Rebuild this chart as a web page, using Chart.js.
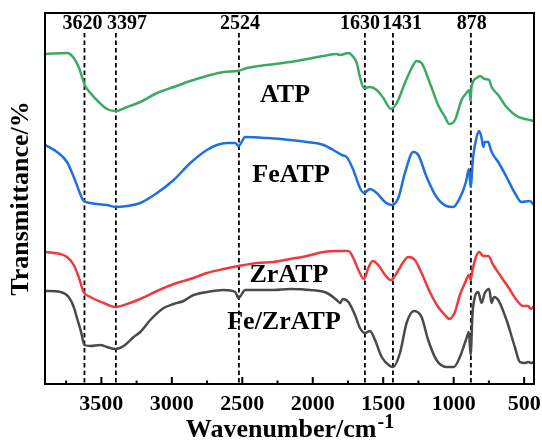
<!DOCTYPE html>
<html>
<head>
<meta charset="utf-8">
<script src="https://cdn.jsdelivr.net/npm/chart.js@4.4.1/dist/chart.umd.min.js"></script>
<style>
  html, body { margin: 0; padding: 0; background: #fff; }
</style>
</head>
<body>
<canvas id="ftirChart" width="542" height="444"></canvas>
<script>
// FTIR spectra, transmittance in arbitrary units (curves offset)
const atpWn = [3897, 3743, 3696, 3661, 3637, 3618, 3578, 3519, 3460, 3401, 3318, 3224, 3105, 2987, 2869, 2751, 2633, 2531, 2467, 2326, 2161, 2042, 1924, 1830, 1806, 1747, 1712, 1688, 1665, 1636, 1594, 1546, 1499, 1445, 1404, 1346, 1298, 1263, 1228, 1169, 1110, 1062, 1031, 991, 944, 909, 888, 880, 874, 837, 814, 779, 748, 731, 684, 625, 554, 495, 460, 430];
const atpT = [330, 331, 326, 317, 307, 299, 291, 282, 275, 273, 277, 282, 291, 297, 303, 308, 312, 313, 316, 319, 322, 325, 328, 330, 329, 331, 327, 321, 307, 296, 297, 294, 286, 275, 281, 301, 316, 323, 321, 301, 279, 267, 260, 264, 284, 291, 294, 283, 297, 306, 308, 305, 304, 297, 289, 277, 268, 265, 264, 263];

const feWn = [3897, 3815, 3744, 3696, 3661, 3630, 3578, 3460, 3401, 3318, 3224, 3105, 2987, 2869, 2751, 2680, 2609, 2550, 2527, 2479, 2326, 2161, 2042, 1924, 1830, 1794, 1759, 1712, 1665, 1636, 1594, 1546, 1487, 1440, 1393, 1346, 1287, 1251, 1192, 1122, 1051, 1004, 956, 913, 892, 880, 862, 837, 819, 802, 790, 779, 755, 736, 719, 684, 625, 566, 518, 460, 430];
const feT = [239, 232, 222, 207, 194, 184, 181, 179, 177, 178, 181, 191, 204, 221, 234, 239, 241, 241, 238, 247, 246, 244, 242, 239, 232, 229, 227, 214, 196, 191, 195, 191, 182, 179, 186, 211, 232, 229, 207, 187, 178, 177, 186, 202, 215, 197, 227, 247, 253, 246, 237, 242, 242, 234, 229, 222, 207, 191, 182, 183, 179];

const zrWn = [3897, 3791, 3744, 3696, 3661, 3626, 3578, 3484, 3401, 3318, 3224, 3105, 2987, 2869, 2751, 2633, 2527, 2397, 2279, 2161, 2042, 1924, 1806, 1747, 1712, 1676, 1636, 1606, 1575, 1535, 1487, 1445, 1404, 1357, 1322, 1275, 1228, 1169, 1110, 1062, 1031, 991, 956, 920, 892, 880, 866, 842, 819, 790, 755, 719, 672, 613, 554, 507, 471, 454, 430];
const zrT = [132, 130, 127, 119, 107, 92, 87, 81, 77, 80, 85, 93, 100, 105, 111, 115, 118, 121, 122, 125, 128, 132, 133, 133, 126, 114, 105, 116, 123, 119, 109, 104, 111, 122, 127, 124, 111, 92, 77, 69, 65, 72, 89, 101, 109, 104, 114, 127, 132, 128, 128, 119, 109, 97, 84, 78, 78, 75, 78];

const fezrWn = [3897, 3791, 3732, 3696, 3673, 3644, 3620, 3578, 3507, 3460, 3401, 3342, 3271, 3224, 3153, 3058, 2987, 2917, 2846, 2751, 2633, 2550, 2527, 2479, 2279, 2161, 2019, 1900, 1830, 1806, 1787, 1747, 1700, 1665, 1629, 1594, 1558, 1511, 1452, 1428, 1381, 1334, 1282, 1228, 1181, 1122, 1051, 999, 956, 913, 892, 880, 866, 850, 826, 802, 779, 748, 731, 714, 684, 625, 566, 530, 495, 471, 448, 430];
const fezrT = [93, 92, 87, 77, 66, 52, 39, 38, 39, 37, 35, 38, 47, 52, 64, 76, 80, 83, 89, 92, 94, 92, 86, 94, 94, 95, 94, 91, 84, 81, 85, 82, 69, 56, 51, 53, 44, 27, 18, 17, 31, 61, 73, 67, 44, 24, 17, 17, 27, 44, 52, 29, 71, 87, 92, 81, 91, 95, 81, 87, 84, 64, 37, 22, 21, 22, 21, 22];

const seriesNames = ['ATP', 'FeATP', 'ZrATP', 'Fe/ZrATP'];
const seriesColors = ['#3aa866', '#1f6fdf', '#ee3a3c', '#4a4a4a'];

const tickValues = [3500, 3000, 2500, 2000, 1500, 1000, 500];
const minorTicks = [3750, 3250, 2750, 2250, 1750, 1250, 750];
const peakValues = [3620, 3397, 2524, 1630, 1431, 878];

// label styling (pixel nudges and anchor positions in data units)
const peakNudge = [-2, 11, 1, -5, 9, 1];
const nameAnchorX = [2197, 2154, 2169, 2204];
const nameAnchorY = [289, 209, 109, 62];

const FONT = '"Liberation Serif", "Times New Roman", serif';

function toPoints(wn, t) {
  return wn.map((w, i) => ({ x: w, y: t[i] }));
}

const decor = {
  id: 'decor',
  beforeDatasetsDraw(chart) {
    const { ctx, chartArea, scales: { x, y } } = chart;
    ctx.save();
    ctx.strokeStyle = '#000';
    ctx.lineWidth = 1.8;
    ctx.setLineDash([4.5, 3]);
    const top = y.getPixelForValue(351);
    peakValues.forEach(p => {
      const px = x.getPixelForValue(p);
      ctx.beginPath();
      ctx.moveTo(px, top);
      ctx.lineTo(px, chartArea.bottom);
      ctx.stroke();
    });
    ctx.restore();
  },
  afterDatasetsDraw(chart) {
    const { ctx, chartArea, scales: { x, y } } = chart;
    ctx.save();
    // frame
    ctx.strokeStyle = '#000';
    ctx.lineWidth = 2;
    ctx.strokeRect(chartArea.left, chartArea.top, chartArea.right - chartArea.left, chartArea.bottom - chartArea.top);
    // inward ticks
    ctx.beginPath();
    tickValues.forEach(v => {
      const px = x.getPixelForValue(v);
      ctx.moveTo(px, chartArea.bottom);
      ctx.lineTo(px, chartArea.bottom - 7);
    });
    minorTicks.forEach(v => {
      const px = x.getPixelForValue(v);
      ctx.moveTo(px, chartArea.bottom);
      ctx.lineTo(px, chartArea.bottom - 3.5);
    });
    ctx.stroke();
    // peak labels
    ctx.fillStyle = '#000';
    ctx.textAlign = 'center';
    ctx.textBaseline = 'middle';
    ctx.font = 'bold 20px ' + FONT;
    peakValues.forEach((p, i) => {
      ctx.fillText(String(p), x.getPixelForValue(p) + peakNudge[i], y.getPixelForValue(360));
    });
    // series names
    ctx.font = 'bold 26px ' + FONT;
    seriesNames.forEach((n, i) => {
      ctx.fillText(n, x.getPixelForValue(nameAnchorX[i]), y.getPixelForValue(nameAnchorY[i]));
    });
    // x-axis title with superscript
    const main = 'Wavenumber/cm';
    const sup = '-1';
    ctx.font = 'bold 26px ' + FONT;
    const wMain = ctx.measureText(main).width;
    ctx.font = 'bold 20px ' + FONT;
    const wSup = ctx.measureText(sup).width;
    const startX = (chartArea.left + chartArea.right) / 2 - (wMain + wSup) / 2;
    ctx.textAlign = 'left';
    ctx.textBaseline = 'alphabetic';
    ctx.font = 'bold 26px ' + FONT;
    ctx.fillText(main, startX, 437);
    ctx.font = 'bold 20px ' + FONT;
    ctx.fillText(sup, startX + wMain + 1, 428);
    ctx.restore();
  }
};

const ctx = document.getElementById('ftirChart').getContext('2d');
const ftirChart = new Chart(ctx, {
  type: 'line',
  data: {
    datasets: [
      toPoints(atpWn, atpT),
      toPoints(feWn, feT),
      toPoints(zrWn, zrT),
      toPoints(fezrWn, fezrT)
    ].map((pts, i) => ({
      label: seriesNames[i],
      data: pts,
      borderColor: seriesColors[i],
      borderWidth: 2.5,
      pointRadius: 0,
      cubicInterpolationMode: 'monotone',
      fill: false
    }))
  },
  options: {
    responsive: false,
    animation: false,
    devicePixelRatio: 1,
    layout: { padding: { top: 13, right: 8, left: 0, bottom: 0 } },
    plugins: {
      legend: { display: false },
      tooltip: { enabled: false }
    },
    scales: {
      x: {
        type: 'linear',
        reverse: true,
        min: 430,
        max: 3900,
        afterBuildTicks: s => { s.ticks = tickValues.map(v => ({ value: v })); },
        afterFit: s => { s.height = 60; s.paddingLeft = 0; s.paddingRight = 0; },
        grid: { display: false, drawTicks: false },
        border: { display: false },
        ticks: {
          color: '#000',
          padding: 7,
          maxRotation: 0,
          autoSkip: false,
          callback: v => String(v),
          font: { family: FONT, size: 22, weight: 'bold' }
        },
        title: { display: false }
      },
      y: {
        min: 0,
        max: 371,
        afterFit: s => { s.width = 45; s.paddingTop = 0; s.paddingBottom = 0; },
        grid: { display: false, drawTicks: false },
        border: { display: false },
        ticks: { display: false },
        title: {
          display: true,
          text: 'Transmittance/%',
          color: '#000',
          padding: { top: 6, bottom: 0 },
          font: { family: FONT, size: 26, weight: 'bold' }
        }
      }
    }
  },
  plugins: [decor]
});
</script>
</body>
</html>
